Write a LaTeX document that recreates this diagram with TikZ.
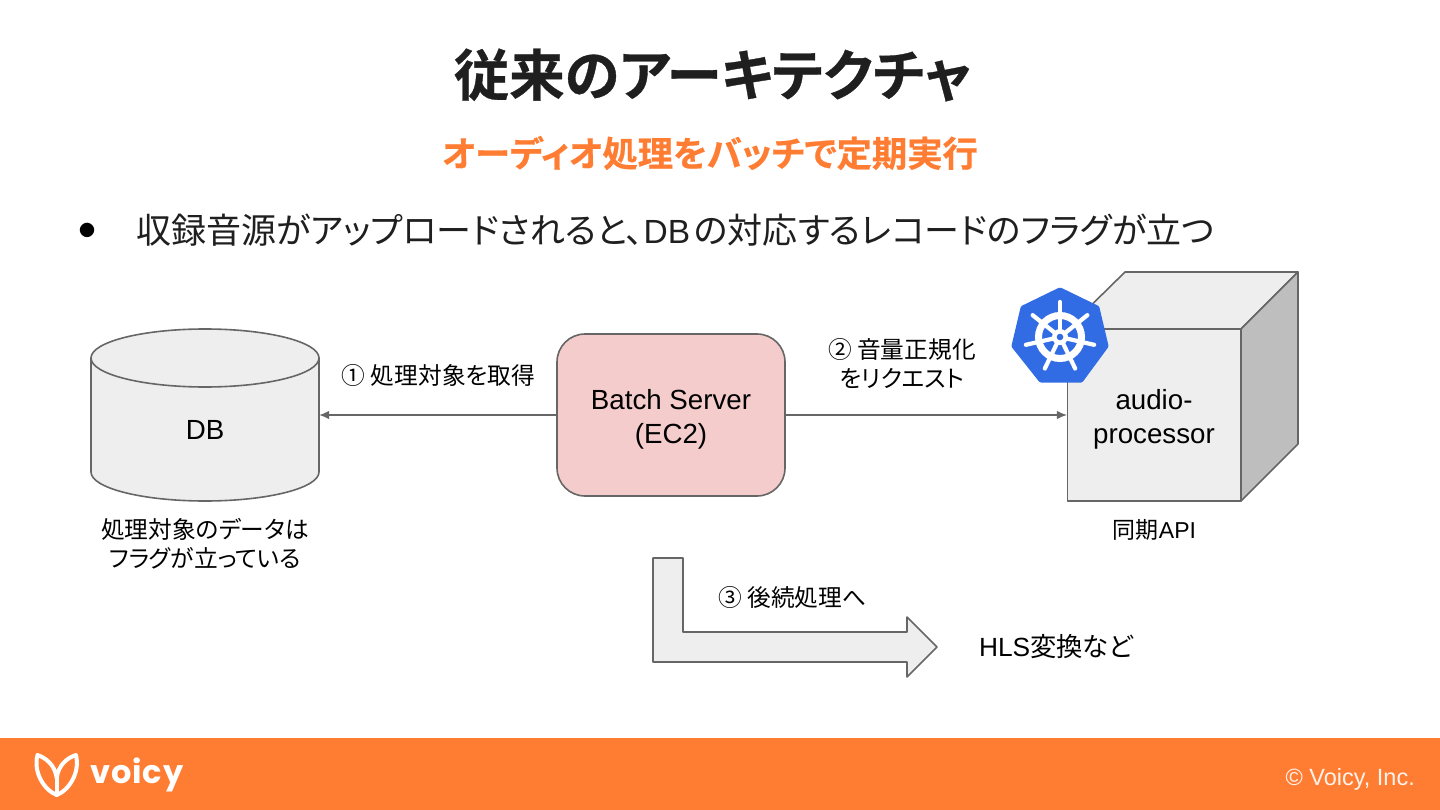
\documentclass[tikz,border=0pt]{standalone}
\usepackage{fontspec}
\setmainfont{Liberation Sans}
\newfontfamily\cjk[RawFeature=+palt]{Noto Sans CJK JP}
\newfontfamily\cjkb[RawFeature=+palt,FakeBold=0.6]{Noto Sans CJK JP Bold}
\newfontfamily\logofont[LetterSpace=3]{Poppins Bold}
\definecolor{vorange}{HTML}{FF7D33}
\definecolor{lineg}{HTML}{666666}
\definecolor{faceg}{HTML}{EEEEEE}
\definecolor{sideg}{HTML}{BEBEBE}
\definecolor{pinkf}{HTML}{F4CCCC}
\definecolor{k8s}{HTML}{326CE5}
\definecolor{titlek}{HTML}{1F1F1F}
\newcommand{\fs}[2]{\fontsize{#1}{#2}\selectfont}
\usetikzlibrary{arrows.meta}
\tikzset{
  shapeline/.style={draw=lineg,line width=1.6pt,line join=round},
  lbl/.style={inner sep=0pt,align=center,text=black},
  big/.style={lbl,font=\fs{27.7}{34}},
  note/.style={lbl,font=\fs{23.7}{29}\cjk},
  conn/.style={draw=lineg,line width=1.2pt,-{Latex[length=10pt,width=8.5pt]}},
}
\begin{document}
\begin{tikzpicture}[x=1pt,y=-1pt]
\useasboundingbox (0,0) rectangle (1440,810);
\fill[white] (0,0) rectangle (1440,810);
\fill[vorange] (0,738) rectangle (1440,810);
% headings
\node[lbl,text=titlek,font=\fs{55.4}{60}\cjkb] (title) at (712.5,75) {従来のアーキテクチャ};
\node[lbl,text=vorange,font=\fs{35.3}{40}\cjkb] (subtitle) at (710,153) {オーディオ処理をバッチで定期実行};
\node[lbl,font=\fs{16}{18}\cjk] (bullet) at (87,230) {●};
\node[lbl,anchor=west,text=titlek,font=\fs{35}{40}] (headline) at (136,230) {\cjk 収録音源がアップロードされると、{\rmfamily\fontsize{33.5}{40}\selectfont DB}\kern4pt の対応するレコードのフラグが立つ};
% DB cylinder
\node[minimum width=228pt,minimum height=172pt,inner sep=0pt] (db) at (205,415) {};
\path[fill=faceg,shapeline] (91,358) -- (91,472) arc[start angle=180,end angle=0,x radius=114,y radius=29] -- (319,358) -- cycle;
\path[fill=faceg,shapeline] (91,358) arc[start angle=180,end angle=0,x radius=114,y radius=29] arc[start angle=0,end angle=-180,x radius=114,y radius=29] -- cycle;
\node[big] (dblabel) at (205,430) {DB};
\node[note] (dbnote) at (205,544) {処理対象のデータは\\フラグが立っている};
% Batch
\node[fill=pinkf,shapeline,rounded corners=28pt,minimum width=228pt,minimum height=162pt,inner sep=0pt] (batch) at (671,415) {};
\node[big] (batchlabel) at (671,419) {Batch Server\\(EC2)};
% cube
\path[fill=faceg,shapeline] (1067,329) -- (1125,272) -- (1298,272) -- (1241,329) -- cycle;
\path[fill=sideg,shapeline] (1241,329) -- (1298,272) -- (1298,444) -- (1241,501) -- cycle;
\node[fill=faceg,shapeline,minimum width=173.5pt,minimum height=172pt,inner sep=0pt] (front) at (1154.4,415) {};
\node[big] (frontlabel) at (1154,419) {audio-\\processor};
\node[lbl,font=\fs{23}{29}\cjk] (apinote) at (1154.5,530) {同期{\rmfamily API}};
% connectors
\draw[conn] (batch.west) -- (db.east);
\draw[conn] (batch.east) -- (front.west);
\node[note] (l1) at (438.5,375) {① 処理対象を取得};
\node[note] (l2) at (902,364) {② 音量正規化\\をリクエスト};
% kubernetes icon
\path[fill=k8s,draw=k8s,line width=5pt,line join=round] (1060,290) -- (1097,308) -- (1106,346) -- (1081,380) -- (1041,380) -- (1014,346) -- (1023,308) -- cycle;
\draw[white,line width=7pt] (1060,337) circle[radius=21.5];
\foreach \a in {90,38.6,-12.9,-64.3,-115.7,-167.1,141.4}{
  \draw[white,line width=4.2pt,line cap=round] (1060,337) -- ++(\a:-35);
}
\fill[white] (1060,337) circle[radius=8];
\fill[k8s] (1060,337) circle[radius=3.3];
% bent arrow
\path[fill=faceg,shapeline] (653,558) -- (683,558) -- (683,632) -- (907,632) -- (907,617) -- (937,647) -- (907,677) -- (907,662) -- (653,662) -- cycle;
\node[note] (l3) at (792.5,597) {③ 後続処理へ};
\node[lbl,font=\fs{26.3}{30}] (hls) at (1056,647) {HLS{\cjk 変換など}};
% footer
\draw[white,line width=4pt,line join=round,line cap=round]
  (56.7,795) .. controls (44,790) and (33,772) .. (37.5,755)
  .. controls (46,758) and (55,765) .. (56.7,778)
  .. controls (58.4,765) and (67,758) .. (75.9,755)
  .. controls (80.4,772) and (69.4,790) .. (56.7,795) -- cycle;
\draw[white,line width=4pt] (56.7,778) -- (56.7,795);
\node[lbl,text=white,anchor=west,font=\fs{32}{36}\logofont] (voicy) at (90,775) {voicy};
\node[lbl,text=white,anchor=east,opacity=0.9,font=\fs{23.5}{28}] (copy) at (1415,779) {© Voicy, Inc.};
\end{tikzpicture}
\end{document}
